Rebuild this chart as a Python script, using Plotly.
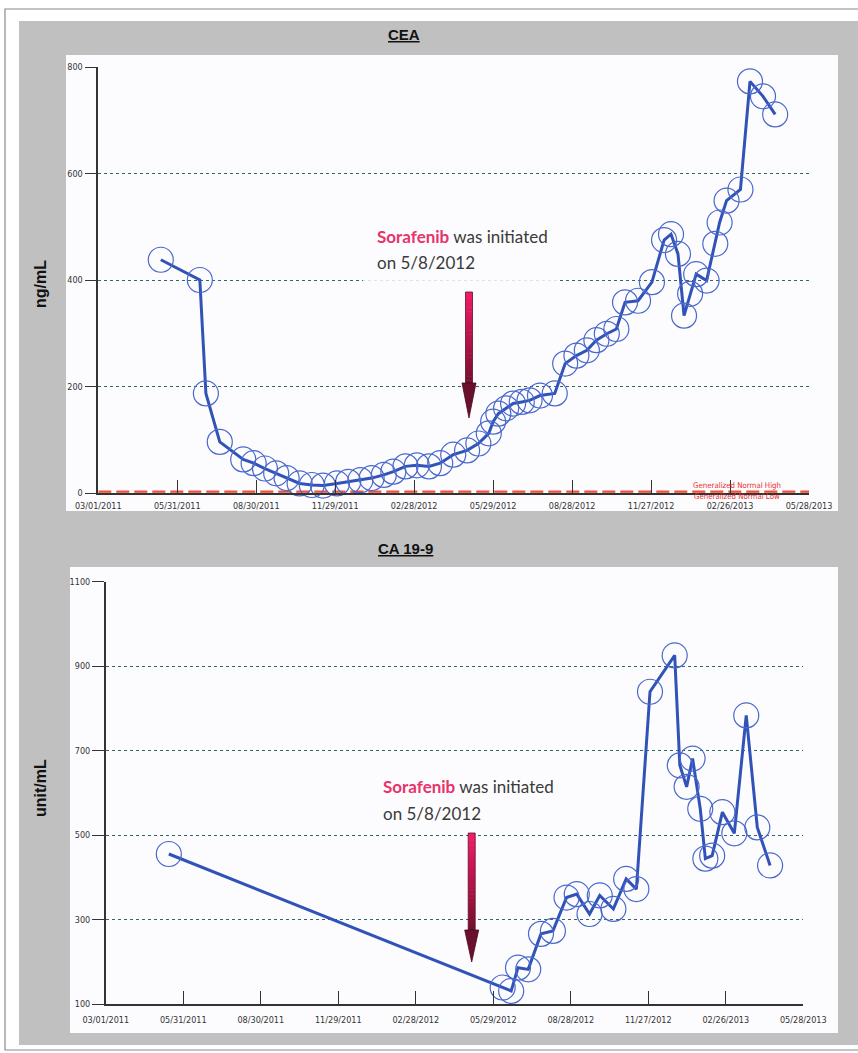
import plotly.graph_objects as go

W, H = 858, 1053

# ---------------- data ----------------
cea_dates = [
    "2011-05-12", "2011-06-26", "2011-07-03", "2011-07-19", "2011-08-15", "2011-08-27",
    "2011-09-09", "2011-09-22", "2011-10-04", "2011-10-19", "2011-11-02", "2011-11-15",
    "2011-12-01", "2011-12-14", "2011-12-28", "2012-01-10", "2012-01-24", "2012-02-04",
    "2012-02-18", "2012-03-02", "2012-03-16", "2012-03-29", "2012-04-13", "2012-04-29",
    "2012-05-12", "2012-05-24", "2012-05-29", "2012-06-04", "2012-06-13", "2012-06-21",
    "2012-07-01", "2012-07-10", "2012-07-22", "2012-08-08", "2012-08-20", "2012-09-02",
    "2012-09-14", "2012-09-25", "2012-10-07", "2012-10-18", "2012-10-28", "2012-11-12",
    "2012-11-28", "2012-12-12", "2012-12-20", "2012-12-28", "2013-01-04", "2013-01-11",
    "2013-01-18", "2013-01-30", "2013-02-09", "2013-02-14", "2013-02-22", "2013-03-10",
    "2013-03-21", "2013-04-05", "2013-04-19",
]
cea_values = [
    438, 400, 187, 96, 63, 56,
    46, 37, 28, 18, 15, 14,
    18, 21, 24, 28, 34, 40,
    50, 52, 50, 56, 72, 80,
    93, 112, 134, 149, 159, 168,
    171, 174, 183, 187, 243, 258,
    268, 287, 299, 308, 358, 361,
    396, 475, 486, 449, 333, 374,
    411, 399, 468, 508, 549, 570,
    773, 745, 711,
]

ca199_dates = [
    "2011-05-14", "2012-06-09", "2012-06-19", "2012-06-27", "2012-07-09", "2012-07-24",
    "2012-08-07", "2012-08-23", "2012-09-04", "2012-09-19", "2012-10-01", "2012-10-17",
    "2012-11-01", "2012-11-13", "2012-11-29", "2012-12-28", "2013-01-03", "2013-01-11",
    "2013-01-18", "2013-01-27", "2013-02-02", "2013-02-10", "2013-02-22", "2013-03-08",
    "2013-03-22", "2013-04-04", "2013-04-19",
]
ca199_values = [
    455, 139, 131, 186, 182, 266,
    273, 352, 360, 313, 357, 325,
    396, 372, 839, 925, 665, 614,
    681, 562, 444, 451, 554, 504,
    783, 518, 428,
]

cea_normal_high = 3
cea_normal_low = 0

tick_dates = ["2011-03-01", "2011-05-31", "2011-08-30", "2011-11-29", "2012-02-28",
              "2012-05-29", "2012-08-28", "2012-11-27", "2013-02-26", "2013-05-28"]
tick_labels = ["03/01/2011", "05/31/2011", "08/30/2011", "11/29/2011", "02/28/2012",
               "05/29/2012", "08/28/2012", "11/27/2012", "02/26/2013", "05/28/2013"]
cea_ticks = [0, 200, 400, 600, 800]
ca199_ticks = [100, 300, 500, 700, 900, 1100]


# ---------------- helpers (pixel -> paper) ----------------
def fx(p):
    return p / W


def fy(p):
    return 1 - p / H


LINE_BLUE = "#3153b8"
CIRCLE_BLUE = "#4a68cc"
NARROW = "Liberation Sans Narrow, DejaVu Sans Condensed, Arial Narrow, sans-serif"
TICK_FONT = dict(family=NARROW, size=9, color="#333333")

fig = go.Figure()

# normal range lines (CEA)
for val in (cea_normal_high, cea_normal_low):
    fig.add_trace(go.Scatter(
        x=[tick_dates[0], tick_dates[-1]], y=[val, val], mode="lines",
        line=dict(color="#f0503c", width=1.6, dash="13px,5px"),
        xaxis="x", yaxis="y", hoverinfo="skip", showlegend=False))

fig.add_trace(go.Scatter(
    x=cea_dates, y=cea_values, mode="lines+markers",
    line=dict(color=LINE_BLUE, width=3),
    marker=dict(symbol="circle-open", size=25, color=CIRCLE_BLUE, line=dict(width=1.2)),
    cliponaxis=False, xaxis="x", yaxis="y", showlegend=False))

fig.add_trace(go.Scatter(
    x=ca199_dates, y=ca199_values, mode="lines+markers",
    line=dict(color=LINE_BLUE, width=3),
    marker=dict(symbol="circle-open", size=25, color=CIRCLE_BLUE, line=dict(width=1.2)),
    cliponaxis=False, xaxis="x2", yaxis="y2", showlegend=False))

common_x = dict(
    type="date", tickmode="array", tickvals=tick_dates, ticktext=tick_labels,
    range=[tick_dates[0], tick_dates[-1]], ticks="inside", ticklen=13, tickwidth=1.3,
    tickcolor="#333333", showline=True, linecolor="#333333", linewidth=1.6,
    showgrid=False, zeroline=False, tickfont=TICK_FONT, fixedrange=True, automargin=False,
)
common_y = dict(
    tickmode="array", ticks="outside", ticklen=12, tickwidth=1.2, tickcolor="#333333",
    showline=True, linecolor="#333333", linewidth=1.6, showgrid=True, griddash="dot",
    gridcolor="#2f6666", gridwidth=1.3, zeroline=False, tickfont=TICK_FONT, fixedrange=True,
    automargin=False,
)

fig.update_layout(
    width=W, height=H, autosize=False,
    margin=dict(l=0, r=0, t=0, b=0, pad=0, autoexpand=False),
    paper_bgcolor="white", plot_bgcolor="rgba(0,0,0,0)",
    xaxis=dict(common_x, domain=[fx(98.3), fx(809)], anchor="y", ticklabelstandoff=3),
    yaxis=dict(common_y, domain=[fy(493), fy(67)], range=[0, 800], tickvals=cea_ticks, anchor="x"),
    xaxis2=dict(common_x, domain=[fx(105.8), fx(803.3)], anchor="y2", ticklabelstandoff=6),
    yaxis2=dict(common_y, domain=[fy(1004), fy(581.5)], range=[100, 1100], tickvals=ca199_ticks,
                anchor="x2"),
)

shapes = []
# outer border
shapes.append(dict(type="rect", xref="paper", yref="paper", x0=fx(5), x1=fx(870), y0=fy(1050), y1=fy(9),
                   line=dict(color="#8a8a8a", width=1.2), fillcolor="white", layer="below"))
# grey panel
shapes.append(dict(type="rect", xref="paper", yref="paper", x0=fx(19), x1=fx(870), y0=fy(1045), y1=fy(21),
                   line=dict(width=0), fillcolor="#c0c0c0", layer="below"))
# white plot areas
shapes.append(dict(type="rect", xref="paper", yref="paper", x0=fx(66), x1=fx(838), y0=fy(511), y1=fy(55),
                   line=dict(width=0), fillcolor="#fcfcfe", layer="below"))
shapes.append(dict(type="rect", xref="paper", yref="paper", x0=fx(70), x1=fx(838), y0=fy(1033), y1=fy(567),
                   line=dict(width=0), fillcolor="#fcfcfe", layer="below"))
# text box covering gridline in top chart
shapes.append(dict(type="rect", xref="paper", yref="paper", x0=fx(363), x1=fx(557), y0=fy(286), y1=fy(274),
                   line=dict(width=0), fillcolor="rgba(252,252,254,0.85)", layer="above"))


def hexmix(c1, c2, t):
    a = [int(c1[i:i + 2], 16) for i in (1, 3, 5)]
    b = [int(c2[i:i + 2], 16) for i in (1, 3, 5)]
    return "#" + "".join("%02x" % round(a[k] + (b[k] - a[k]) * t) for k in range(3))


def arrow(cx, top, head_top, tip, shaft_w=7, head_w=14):
    out = []
    n = 24
    seg = (head_top + 1 - top) / n
    for i in range(n):
        t = i / (n - 1)
        if t < 0.5:
            col = hexmix("#f01c66", "#b8124a", t / 0.5)
        else:
            col = hexmix("#b8124a", "#74102f", (t - 0.5) / 0.5)
        out.append(dict(type="rect", xref="paper", yref="paper",
                        x0=fx(cx - shaft_w / 2), x1=fx(cx + shaft_w / 2),
                        y0=fy(top + (i + 1) * seg + 0.5), y1=fy(top + i * seg),
                        line=dict(width=0), fillcolor=col, layer="above"))
    out.append(dict(type="rect", xref="paper", yref="paper",
                    x0=fx(cx - shaft_w / 2), x1=fx(cx + shaft_w / 2), y0=fy(head_top), y1=fy(top),
                    line=dict(color="#5a1428", width=0.8), fillcolor="rgba(0,0,0,0)", layer="above"))
    path = "M %f %f L %f %f L %f %f Z" % (fx(cx - head_w / 2), fy(head_top), fx(cx + head_w / 2), fy(head_top),
                                          fx(cx), fy(tip))
    out.append(dict(type="path", xref="paper", yref="paper", path=path,
                    line=dict(color="#4a0a1e", width=0.8), fillcolor="#6a0f2c", layer="above"))
    return out


shapes += arrow(469, 292, 383, 418)
shapes += arrow(471.7, 833, 930, 962)
fig.update_layout(shapes=shapes)


def note(text, x, y, size, family, color="#111111", angle=0, xanchor="center"):
    return dict(text=text, x=fx(x), y=fy(y), xref="paper", yref="paper", xanchor=xanchor, yanchor="middle",
                textangle=angle, showarrow=False, font=dict(family=family, size=size, color=color))


ARIAL = "Liberation Sans, Arial, sans-serif"
LATO = "Lato, Open Sans, sans-serif"
ann = [
    note("<b><u>CEA</u></b>", 404, 35, 15, ARIAL),
    note("<b><u>CA 19-9</u></b>", 405, 548, 15, ARIAL),
    note("<b>ng/mL</b>", 40, 284, 16, ARIAL, angle=-90),
    note("<b>unit/mL</b>", 40, 788, 16, ARIAL, angle=-90),
    note("Generalized Normal High", 737, 485, 7.8, NARROW, color="#e83030"),
    note("Generalized Normal Low", 737, 496.5, 7.8, NARROW, color="#e83030"),
]
SORA = "<b><span style='color:#e8336b'>Sorafenib</span></b> was initiated"
for (x0, y1, y2) in ((375, 236, 262), (381, 786, 813)):
    ann.append(note(SORA, x0, y1, 17, LATO, color="#3a3a3a", xanchor="left"))
    ann.append(note("on 5/8/2012", x0, y2, 17, LATO, color="#3a3a3a", xanchor="left"))
fig.update_layout(annotations=ann)

fig.write_html("out.html", config={"displayModeBar": False},
               post_script="document.body.style.margin='0px';")
